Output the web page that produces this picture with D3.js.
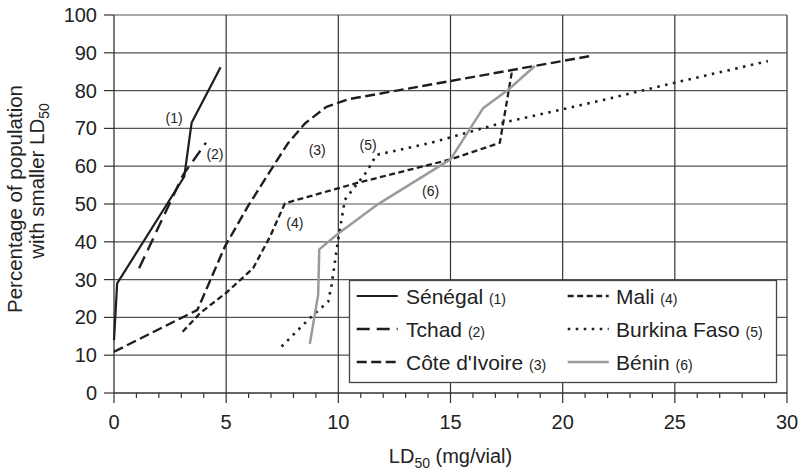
<!DOCTYPE html>
<html><head><meta charset="utf-8">
<script src="https://cdn.jsdelivr.net/npm/d3@7"></script>
<style>body{margin:0;background:#fff}svg{display:block}text{font-family:"Liberation Sans",Arial,Helvetica,sans-serif;fill:#222}</style>
</head><body><svg id="c" width="802" height="470"></svg>
<script>
const senegalX=[0,0.14,3.13,3.46,4.75];
const senegalY=[14,29,57.2,71.5,86.2];
const tchadX=[1.12,3.08,4.10];
const tchadY=[33,57.7,66.2];
const coteX=[0,3.72,4.94,5.98,7.09,7.76,8.51,9.47,10.44,21.28];
const coteY=[10.9,22.0,38.7,49.5,59.9,66.1,71.3,75.7,77.7,89.2];
const maliX=[3.06,3.83,5.0,6.2,6.95,7.62,10.8,15.0,17.2,17.75];
const maliY=[16.2,21.1,26.5,33,41.3,50.2,55.5,61.8,66.2,85.5];
const burkinaX=[7.47,8.73,9.55,9.70,9.84,9.99,10.14,10.29,10.74,11.26,11.70,14.08,17.2,21.8,25.0,29.15];
const burkinaY=[12.3,19.8,24.2,28.6,34.3,40.5,45.8,51.1,54.6,58.5,63.0,66.1,71.3,77.5,82.1,87.8];
const beninX=[8.73,9.1,9.15,10.0,11.7,15.0,16.45,17.57,18.76];
const beninY=[13,26,38,42.2,49.7,61.8,75.3,80.2,86.5];
const seriesNames=["Sénégal","Tchad","Côte d'Ivoire","Mali","Burkina Faso","Bénin"];
const seriesTags=["(1)","(2)","(3)","(4)","(5)","(6)"];
const tagX=[2.68,4.50,9.06,8.06,11.33,14.11];
const tagY=[72.8,63.2,64.3,45.0,65.6,53.3];
const xTicks=[0,5,10,15,20,25,30];
const yTicks=[0,10,20,30,40,50,60,70,80,90,100];

const series=[
 {x:senegalX,y:senegalY,color:"#1e1e1e",dash:null,w:2.2},
 {x:tchadX,y:tchadY,color:"#1e1e1e",dash:"13,7",w:2.4},
 {x:coteX,y:coteY,color:"#1e1e1e",dash:"10,4.5",w:2.4},
 {x:maliX,y:maliY,color:"#1e1e1e",dash:"6,3.5",w:2.3},
 {x:burkinaX,y:burkinaY,color:"#1e1e1e",dash:"2.5,5.5",w:2.6},
 {x:beninX,y:beninY,color:"#9a9a9a",dash:null,w:2.5}
];

const svg=d3.select("#c");
const x=d3.scaleLinear().domain([0,30]).range([114,787]);
const y=d3.scaleLinear().domain([0,100]).range([393,15]);

// grid
svg.append("g").selectAll("line").data(yTicks.filter(v=>v>0)).join("line")
 .attr("x1",x(0)).attr("x2",x(30)).attr("y1",d=>y(d)).attr("y2",d=>y(d))
 .attr("stroke","#555").attr("stroke-width",1.2);
svg.append("g").selectAll("line").data(xTicks.filter(v=>v>0)).join("line")
 .attr("x1",d=>x(d)).attr("x2",d=>x(d)).attr("y1",y(0)).attr("y2",y(100))
 .attr("stroke","#333").attr("stroke-width",1.2);

// axes
const xMinor=d3.range(0,31,1);
svg.append("g").selectAll("line").data(xMinor).join("line")
 .attr("x1",d=>x(d)).attr("x2",d=>x(d)).attr("y1",y(0)).attr("y2",d=>y(0)+(d%5===0?10:5))
 .attr("stroke","#333").attr("stroke-width",1.2);
svg.append("line").attr("x1",x(0)).attr("x2",x(30)).attr("y1",y(0)).attr("y2",y(0)).attr("stroke","#333").attr("stroke-width",1.3);
svg.append("line").attr("x1",x(0)).attr("x2",x(0)).attr("y1",y(0)).attr("y2",y(100)).attr("stroke","#333").attr("stroke-width",1.3);
svg.append("g").selectAll("line").data(yTicks).join("line")
 .attr("x1",x(0)-10).attr("x2",x(0)).attr("y1",d=>y(d)).attr("y2",d=>y(d))
 .attr("stroke","#333").attr("stroke-width",1.2);
svg.append("g").selectAll("text").data(yTicks).join("text")
 .attr("x",97).attr("y",d=>y(d)).attr("dy","0.35em").attr("text-anchor","end")
 .attr("font-size",20).text(d=>d);
svg.append("g").selectAll("text").data(xTicks).join("text")
 .attr("x",d=>x(d)).attr("y",429).attr("text-anchor","middle")
 .attr("font-size",20).text(d=>d);

// axis titles
const xl=svg.append("text").attr("x",450.5).attr("y",462.5).attr("text-anchor","middle").attr("font-size",20);
xl.append("tspan").text("LD");
xl.append("tspan").attr("font-size",14).attr("dy",5).text("50");
xl.append("tspan").attr("dy",-5).text(" (mg/vial)");
svg.append("text").attr("transform","translate(21.5,199) rotate(-90)").attr("text-anchor","middle").attr("font-size",20.5).text("Percentage of population");
const yl=svg.append("text").attr("transform","translate(43.5,181) rotate(-90)").attr("text-anchor","middle").attr("font-size",20.5);
yl.append("tspan").text("with smaller LD");
yl.append("tspan").attr("font-size",14).attr("dy",5).text("50");

// lines
const line=d3.line().x(d=>x(d[0])).y(d=>y(d[1]));
series.forEach(s=>{
 const pts=s.x.map((v,i)=>[v,s.y[i]]);
 svg.append("path").attr("d",line(pts)).attr("fill","none").attr("stroke",s.color)
  .attr("stroke-width",s.w).attr("stroke-dasharray",s.dash).attr("stroke-linejoin","round");
});

// tags
svg.append("g").selectAll("text").data(tagX).join("text")
 .attr("x",(d,i)=>x(d)).attr("y",(d,i)=>y(tagY[i])).attr("dy","0.35em").attr("text-anchor","middle")
 .attr("font-size",14).text((d,i)=>seriesTags[i]);

// legend
const lg=svg.append("g");
lg.append("rect").attr("x",349.5).attr("y",280.5).attr("width",427).attr("height",102)
 .attr("fill","#fff").attr("stroke","#444").attr("stroke-width",1.3);
const colX=[356.7,567.7], textX=[406,616], baseY=[303.5,336.5,369.5];
series.forEach((s,i)=>{
 const c=Math.floor(i/3), r=i%3;
 lg.append("line").attr("x1",colX[c]).attr("x2",colX[c]+41).attr("y1",baseY[r]-7.5).attr("y2",baseY[r]-7.5)
  .attr("stroke",s.color).attr("stroke-width",s.w).attr("stroke-dasharray",s.dash);
 const t=lg.append("text").attr("x",textX[c]).attr("y",baseY[r]).attr("font-size",21);
 t.append("tspan").text(seriesNames[i]+" ");
 t.append("tspan").attr("font-size",14).text(seriesTags[i]);
});
</script></body></html>
